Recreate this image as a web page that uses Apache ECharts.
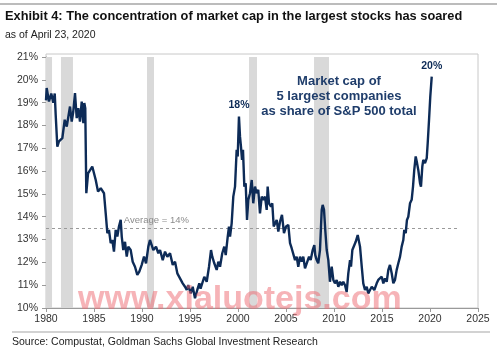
<!DOCTYPE html>
<html>
<head>
<meta charset="utf-8">
<title>Exhibit 4</title>
<script src="https://cdn.jsdelivr.net/npm/echarts@6/dist/echarts.min.js"></script>
<style>
  html, body { margin: 0; padding: 0; background: #fff; }
  #main { width: 499px; height: 351px; }
</style>
</head>
<body>
<div id="main"></div>
<script type="text/javascript">
// dates as decimal years, share of S&P 500 cap held by the 5 largest stocks (%)
var years = [
  1980.0, 1980.07, 1980.31, 1980.55, 1980.76, 1980.91, 1981.01, 1981.18, 1981.35, 1981.7,
  1981.95, 1982.16, 1982.5, 1982.68, 1982.84, 1983.02, 1983.2, 1983.36, 1983.54, 1983.72,
  1983.89, 1983.99, 1984.09, 1984.2, 1984.38, 1984.58, 1984.82, 1985.0, 1985.18, 1985.42,
  1985.7, 1985.86, 1986.04, 1986.22, 1986.39, 1986.56, 1986.74, 1986.91, 1987.08, 1987.26,
  1987.43, 1987.6, 1987.78, 1987.89, 1988.05, 1988.23, 1988.41, 1988.57, 1988.82, 1989.03,
  1989.27, 1989.51, 1989.72, 1989.97, 1990.21, 1990.42, 1990.66, 1990.83, 1991.01, 1991.18,
  1991.46, 1991.7, 1991.88, 1992.16, 1992.4, 1992.64, 1992.92, 1993.2, 1993.44, 1993.68,
  1993.96, 1994.24, 1994.48, 1994.66, 1994.82, 1995.07, 1995.28, 1995.52, 1995.76, 1995.97,
  1996.1, 1996.28, 1996.49, 1996.74, 1996.98, 1997.19, 1997.32, 1997.53, 1997.78, 1997.95,
  1998.13, 1998.36, 1998.57, 1998.72, 1998.93, 1999.06, 1999.17, 1999.34, 1999.51, 1999.69,
  1999.86, 1999.97, 2000.1, 2000.21, 2000.31, 2000.42, 2000.52, 2000.66, 2000.8, 2000.94,
  2001.07, 2001.25, 2001.43, 2001.59, 2001.77, 2001.95, 2002.11, 2002.29, 2002.47, 2002.64,
  2002.81, 2002.99, 2003.09, 2003.23, 2003.44, 2003.57, 2003.72, 2003.85, 2004.03, 2004.2,
  2004.38, 2004.58, 2004.79, 2005.0, 2005.24, 2005.42, 2005.59, 2005.76, 2005.94, 2006.11,
  2006.28, 2006.46, 2006.64, 2006.8, 2006.98, 2007.16, 2007.4, 2007.57, 2007.78, 2007.95,
  2008.05, 2008.2, 2008.36, 2008.54, 2008.72, 2008.82, 2008.96, 2009.09, 2009.24, 2009.41,
  2009.58, 2009.76, 2009.93, 2010.1, 2010.28, 2010.45, 2010.63, 2010.8, 2010.97, 2011.15,
  2011.32, 2011.49, 2011.67, 2011.77, 2011.91, 2012.11, 2012.26, 2012.47, 2012.6, 2012.71,
  2012.89, 2013.05, 2013.23, 2013.41, 2013.57, 2013.75, 2013.93, 2014.2, 2014.45, 2014.61,
  2014.79, 2014.97, 2015.14, 2015.31, 2015.49, 2015.66, 2015.83, 2016.01, 2016.18, 2016.35,
  2016.53, 2016.7, 2016.88, 2017.05, 2017.22, 2017.32, 2017.47, 2017.6, 2017.74, 2017.92,
  2018.09, 2018.23, 2018.36, 2018.51, 2018.65, 2018.78, 2018.96, 2019.06, 2019.2, 2019.3,
  2019.48, 2019.66, 2019.76, 2019.9, 2020.03, 2020.18
];
var shares = [
  19.1, 19.64, 19.05, 19.4, 19.0, 19.4, 18.46, 17.07, 17.3, 17.44,
  18.25, 17.95, 18.83, 18.17, 18.6, 19.42, 18.32, 18.76, 18.17, 19.05,
  18.1, 18.98, 18.76, 15.03, 15.9, 15.98, 16.2, 16.27, 15.61, 15.1,
  15.25, 15.32, 15.03, 14.15, 13.28, 13.42, 12.84, 12.98, 12.47, 13.42,
  13.13, 13.57, 13.86, 13.13, 12.54, 12.9, 12.25, 12.69, 12.54, 12.03,
  11.81, 11.45, 11.59, 11.89, 12.25, 11.96, 12.69, 12.98, 12.76, 12.54,
  12.69, 12.4, 12.54, 12.1, 12.47, 12.25, 12.4, 11.89, 12.03, 11.52,
  11.3, 11.08, 10.93, 10.79, 11.0, 10.64, 10.93, 10.43, 10.79, 11.08,
  10.85, 10.93, 11.37, 11.15, 11.81, 12.54, 12.25, 11.96, 11.67, 12.03,
  11.81, 12.4, 12.69, 12.32, 13.13, 13.57, 13.13, 13.71, 14.88, 15.32,
  16.93, 16.64, 18.39, 17.51, 17.07, 16.49, 16.93, 15.32, 15.47, 13.86,
  14.74, 15.03, 15.61, 14.59, 15.32, 15.03, 15.18, 14.15, 14.88, 14.74,
  14.88, 14.3, 15.32, 14.59, 14.44, 14.59, 13.57, 13.57, 13.86, 13.35,
  13.79, 14.08, 13.28, 13.57, 13.64, 12.84, 12.62, 12.69, 12.1, 12.25,
  11.81, 12.25, 12.03, 12.25, 11.74, 11.96, 12.25, 12.1, 12.54, 12.76,
  12.32, 12.1, 11.96, 12.54, 14.3, 14.52, 14.3, 13.42, 12.54, 12.1,
  11.15, 11.81, 11.23, 11.08, 11.23, 10.93, 11.15, 11.0, 11.15, 11.0,
  10.7, 11.52, 12.1, 11.81, 12.54, 12.62, 12.9, 13.2, 13.28, 12.69,
  11.81, 11.08, 10.79, 10.93, 10.64, 10.79, 10.93, 10.79, 11.08, 11.23,
  11.15, 11.37, 11.08, 11.3, 11.15, 11.67, 11.89, 11.52, 11.08, 11.23,
  11.67, 11.96, 12.25, 12.69, 12.98, 13.42, 13.28, 13.86, 14.0, 14.59,
  14.74, 15.32, 16.05, 16.64, 16.35, 16.05, 15.47, 15.32, 16.2, 16.49,
  16.35, 16.57, 17.22, 18.25, 19.27, 20.14
];

// recession bands (start, end) as decimal years
var recessionStart = [1980.0, 1981.56, 1990.52, 2001.15, 2007.92];
var recessionEnd = [1980.63, 1982.81, 1991.25, 2001.98, 2009.48];

var averageValue = 13.5;
var averageEnd = 2022.9;
var xTicks = [1980, 2025, 5];
var yTicks = [10, 21, 1];

var lineData = years.map(function (y, i) { return [y, shares[i]]; });
var bands = recessionStart.map(function (s, i) {
  return [{ xAxis: s }, { xAxis: recessionEnd[i] }];
});

var navy = '#0d2b57';
var labelFont = 'Liberation Sans, Arial, sans-serif';

var chart = echarts.init(document.getElementById('main'), null, { renderer: 'canvas' });
chart.setOption({
  backgroundColor: '#fff',
  animation: false,
  textStyle: { fontFamily: labelFont },
  grid: { left: 46, right: 21, top: 57, bottom: 43 },
  xAxis: {
    type: 'value',
    min: xTicks[0], max: xTicks[1], interval: xTicks[2],
    axisLine: { lineStyle: { color: '#9a9a9a', width: 1 } },
    axisTick: { show: true, length: 4, lineStyle: { color: '#9a9a9a' } },
    axisLabel: { color: '#333', fontSize: 10.5, margin: 6, formatter: function (v) { return String(v); } },
    splitLine: { show: false }
  },
  yAxis: {
    type: 'value',
    min: yTicks[0], max: yTicks[1], interval: yTicks[2],
    axisLine: { show: true, lineStyle: { color: '#9a9a9a', width: 1 } },
    axisTick: { show: true, length: 4, lineStyle: { color: '#9a9a9a' } },
    axisLabel: { color: '#333', fontSize: 10.5, margin: 8, formatter: '{value}%' },
    splitLine: { show: false }
  },
  graphic: [
    { type: 'line', shape: { x1: 0, y1: 4, x2: 497, y2: 4 }, style: { stroke: '#a6a6a6', lineWidth: 1.5 } },
    { type: 'text', left: 5, top: 10, style: { text: 'Exhibit 4: The concentration of market cap in the largest stocks has soared', font: 'bold 12.8px ' + labelFont, fill: '#111' } },
    { type: 'text', left: 5, top: 30, style: { text: 'as of April 23, 2020', font: '10.5px ' + labelFont, fill: '#222' } },
    { type: 'rect', z: -1, shape: { x: 46, y: 54, width: 432, height: 254 }, style: { fill: 'none', stroke: '#c8c8c8', lineWidth: 1 } },
    { type: 'text', x: 339, y: 74, z: 10, style: { text: 'Market cap of\n5 largest companies\nas share of S&P 500 total', font: 'bold 13px ' + labelFont, fill: '#1f3d6b', align: 'center', lineHeight: 15 } },
    { type: 'text', left: 78, top: 283, z: 100, style: { text: 'www.xialuotejs.com', font: 'bold 34px ' + labelFont, fill: 'rgba(238,104,112,0.5)' } },
    { type: 'line', shape: { x1: 12, y1: 332, x2: 490, y2: 332 }, style: { stroke: '#a6a6a6', lineWidth: 1.2 } },
    { type: 'text', left: 12, top: 337, style: { text: 'Source: Compustat, Goldman Sachs Global Investment Research', font: '10.5px ' + labelFont, fill: '#222' } }
  ],
  series: [{
    type: 'line',
    data: lineData,
    showSymbol: false,
    lineStyle: { color: navy, width: 2.4 },
    z: 5,
    markArea: {
      silent: true,
      itemStyle: { color: '#d9d9d9' },
      data: bands
    },
    markLine: {
      silent: true,
      symbol: ['none', 'none'],
      lineStyle: { color: '#9a9a9a', type: [3, 3], width: 1 },
      label: { show: false },
      data: [[{ coord: [xTicks[0], averageValue] }, { coord: [averageEnd, averageValue] }]]
    },
    markPoint: {
      silent: true,
      symbolSize: 0,
      data: [
        { coord: [1991.5, averageValue], label: { show: true, formatter: 'Average = 14%', position: 'top', distance: 3, color: '#8c8c8c', fontSize: 9.5 } },
        { coord: [2000.1, 18.39], label: { show: true, formatter: '18%', position: 'top', distance: 6, color: navy, fontSize: 10.5, fontWeight: 'bold' } },
        { coord: [2020.18, 20.14], label: { show: true, formatter: '20%', position: 'top', distance: 5, color: navy, fontSize: 10.5, fontWeight: 'bold' } }
      ]
    }
  }]
});
</script>
</body>
</html>
